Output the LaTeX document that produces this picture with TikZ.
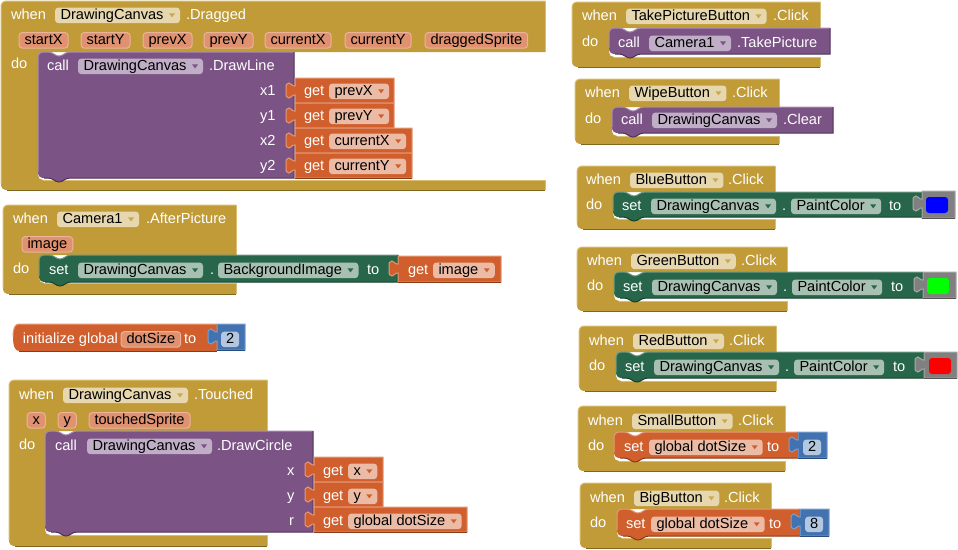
\documentclass[tikz,border=0pt]{standalone}
\usepackage{fontspec}
\setmainfont{Liberation Sans}

\definecolor{gold}{HTML}{C09B38}
\definecolor{goldlt}{HTML}{D9BE72}
\definecolor{golddk}{HTML}{7F6720}
\definecolor{goldpill}{HTML}{E6D7AF}
\definecolor{goldtri}{HTML}{C9A94F}
\definecolor{purp}{HTML}{7B5385}
\definecolor{purplt}{HTML}{A88DB0}
\definecolor{purpdk}{HTML}{4F3257}
\definecolor{purppill}{HTML}{BFAEC6}
\definecolor{purptri}{HTML}{7B5385}
\definecolor{grn}{HTML}{27664A}
\definecolor{grnlt}{HTML}{6F9A82}
\definecolor{grndk}{HTML}{17402B}
\definecolor{grnpill}{HTML}{A8C0B2}
\definecolor{grntri}{HTML}{27664A}
\definecolor{org}{HTML}{D05F2D}
\definecolor{orglt}{HTML}{E49A78}
\definecolor{orgdk}{HTML}{8A3A15}
\definecolor{orgpill}{HTML}{ECBBA5}
\definecolor{orgtri}{HTML}{D05F2D}
\definecolor{orgparam}{HTML}{E0916F}
\definecolor{blu}{HTML}{4272B0}
\definecolor{blult}{HTML}{7BA0D0}
\definecolor{bludk}{HTML}{2A4D80}
\definecolor{blupill}{HTML}{B3C7E1}
\definecolor{gry}{HTML}{808080}
\definecolor{grylt}{HTML}{AAAAAA}
\definecolor{grydk}{HTML}{555555}

\newcommand{\blockfont}{\fontsize{14.6}{16}\selectfont}

\tikzset{
	lbl/.style={anchor=base west, inner sep=0pt, outer sep=0pt, text=white, font=\blockfont},
	field/.style={anchor=base west, inner xsep=5.5pt, inner ysep=1pt, outer sep=0pt, text height=10.5pt, text depth=3.2pt, rounded corners=3.5pt, text=black, font=\blockfont},
	param/.style={field, fill=orgparam, draw=orgpill!80!orgparam, line width=1pt},
	number/.style={field, fill=blupill, inner xsep=5pt},
	swatch/.style={rounded corners=3pt},
	edge/.style={line width=1pt}
}

\newcommand{\whenblock}[7]{
	\fill[gold] (#1,#2+6) .. controls (#1,#2+2) and (#1+2,#2) .. (#1+6,#2) -- (#3,#2) -- (#3,#4) -- (#5+6,#4) -- (#5,#4+6) -- (#5,#6-5) .. controls (#5,#6-2) and (#5+2,#6) .. (#5+5,#6) -- (#3,#6) -- (#3,#7) -- (#1+6,#7) .. controls (#1+2,#7) and (#1,#7-2) .. (#1,#7-6) -- cycle;
	\draw[edge, goldlt] (#1,#7-6) -- (#1,#2+6) .. controls (#1,#2+2) and (#1+2,#2) .. (#1+6,#2) -- (#3,#2);
	\draw[edge, goldlt] (#5+5,#6) -- (#3,#6);
	\draw[edge, golddk] (#1+6,#7) -- (#3,#7);
	\draw[edge, goldlt] (#3,#2) -- (#3,#4);
	\draw[edge, goldlt] (#3,#6) -- (#3,#7);
}
\newcommand{\stmtblock}[5]{
	\fill[#5] (#1,#2+6) .. controls (#1,#2+2) and (#1+2,#2) .. (#1+6,#2) -- (#1+10,#2) .. controls (#1+15,#2) and (#1+17,#2+4) .. (#1+21,#2+4) .. controls (#1+25,#2+4) and (#1+27,#2) .. (#1+32,#2) -- (#3,#2) -- (#3,#4) -- (#1+32,#4) .. controls (#1+27,#4) and (#1+25,#4+4) .. (#1+21,#4+4) .. controls (#1+17,#4+4) and (#1+15,#4) .. (#1+10,#4) -- (#1+6,#4) .. controls (#1+2,#4) and (#1,#4-2) .. (#1,#4-6) -- cycle;
	\draw[edge, #5lt] (#1,#4-6) -- (#1,#2+6) .. controls (#1,#2+2) and (#1+2,#2) .. (#1+6,#2) -- (#1+10,#2) .. controls (#1+15,#2) and (#1+17,#2+4) .. (#1+21,#2+4) .. controls (#1+25,#2+4) and (#1+27,#2) .. (#1+32,#2) -- (#3,#2);
	\draw[edge, #5dk] (#3,#2) -- (#3,#4) -- (#1+32,#4) .. controls (#1+27,#4) and (#1+25,#4+4) .. (#1+21,#4+4) .. controls (#1+17,#4+4) and (#1+15,#4) .. (#1+10,#4) -- (#1+6,#4);
}
\newcommand{\valblock}[5]{
	\draw[edge, #5lt, fill=#5] (#1,#2) -- (#3,#2) -- (#3,#4) -- (#1,#4) -- (#1,#2+17) .. controls (#1-3,#2+16) and (#1-3,#2+20) .. (#1-6,#2+20) .. controls (#1-9,#2+20) and (#1-9,#2+18) .. (#1-9,#2+14) -- (#1-9,#2+11) .. controls (#1-9,#2+7) and (#1-9,#2+5) .. (#1-6,#2+5) .. controls (#1-3,#2+5) and (#1-3,#2+9) .. (#1,#2+8) -- cycle;
	\draw[edge, #5dk] (#1,#4) -- (#3,#4);
}
\newcommand{\dropf}[5]{
	\node[field, fill=#5pill] (#1) at (#2,#3) {#4\hspace*{11pt}};
	\fill[#5tri] ([shift={(-11,-2)}]#1.east) -- ([shift={(-5,-2)}]#1.east) -- ([shift={(-8,2)}]#1.east) -- cycle;
}

\begin{document}
\begin{tikzpicture}[x=1pt,y=-1pt]
\useasboundingbox (0,0) rectangle (958,549);

\whenblock{1}{1}{545}{52}{38}{180}{190}
\stmtblock{38}{52}{294}{178}{purp}
\valblock{295}{78}{394}{103}{org}
\valblock{295}{103}{394}{128}{org}
\valblock{295}{128}{412}{153}{org}
\valblock{295}{153}{412}{178}{org}
\node[lbl] (dragWhen) at (11,19) {when};
\dropf{dragCanvas}{55}{19}{DrawingCanvas}{gold}
\node[lbl] (dragName) at (186,19) {.Dragged};
\node[param] (dragStartX) at (19,44) {startX};
\node[param] (dragStartY) at (81,44) {startY};
\node[param] (dragPrevX) at (143,44) {prevX};
\node[param] (dragPrevY) at (204,44) {prevY};
\node[param] (dragCurX) at (265,44) {currentX};
\node[param] (dragCurY) at (345,44) {currentY};
\node[param] (dragSprite) at (425,44) {draggedSprite};
\node[lbl] (dragDo) at (11,68) {do};
\node[lbl] (lineCall) at (47,70) {call};
\dropf{lineCanvas}{78}{70}{DrawingCanvas}{purp}
\node[lbl] (lineName) at (209,70) {.DrawLine};
\node[lbl] (lineXa) at (260,95) {x1};
\node[lbl] (lineYa) at (260,120) {y1};
\node[lbl] (lineXb) at (260,145) {x2};
\node[lbl] (lineYb) at (260,170) {y2};
\node[lbl] (getA) at (304,95) {get};
\dropf{getPrevX}{329}{95}{prevX}{org}
\node[lbl] (getB) at (304,120) {get};
\dropf{getPrevY}{329}{120}{prevY}{org}
\node[lbl] (getC) at (304,145) {get};
\dropf{getCurX}{329}{145}{currentX}{org}
\node[lbl] (getD) at (304,170) {get};
\dropf{getCurY}{329}{170}{currentY}{org}

\whenblock{3}{205}{236}{255}{39}{283}{294}
\stmtblock{39}{255}{398}{282}{grn}
\valblock{398}{256}{501}{282}{org}
\node[lbl] (afterWhen) at (13,223) {when};
\dropf{afterCamera}{57}{223}{Camera1}{gold}
\node[lbl] (afterName) at (146,223) {.AfterPicture};
\node[param] (afterImage) at (22,248) {image};
\node[lbl] (afterDo) at (13,273) {do};
\node[lbl] (bgSet) at (49,274) {set};
\dropf{bgCanvas}{78}{274}{DrawingCanvas}{grn}
\node[lbl] (bgDot) at (210,274) {.};
\dropf{bgProp}{218}{274}{BackgroundImage}{grn}
\node[lbl] (bgTo) at (367,274) {to};
\node[lbl] (getImg) at (408,274) {get};
\dropf{getImage}{433}{274}{image}{org}

\fill[org] (19,324) .. controls (15,324) and (13,328) .. (13,337) .. controls (13,346) and (15,351) .. (19,351) -- (217,351) -- (217,324) -- cycle;
\draw[edge, orglt] (13,337) .. controls (13,328) and (15,324) .. (19,324) -- (217,324);
\draw[edge, orgdk] (19,351) -- (217,351);
\valblock{217}{324}{245}{350}{blu}
\node[lbl] (initText) at (23,343) {initialize global};
\node[param] (initName) at (121,343) {dotSize};
\node[lbl] (initTo) at (184,343) {to};
\node[number] (initNum) at (221,343) {2};

\whenblock{9}{380}{267}{431}{45}{535}{546}
\stmtblock{45}{431}{313}{532}{purp}
\valblock{314}{457}{383}{482}{org}
\valblock{314}{482}{383}{507}{org}
\valblock{314}{507}{467}{532}{org}
\node[lbl] (touchWhen) at (19,399) {when};
\dropf{touchCanvas}{63}{399}{DrawingCanvas}{gold}
\node[lbl] (touchName) at (194,399) {.Touched};
\node[param] (touchX) at (27,424) {x};
\node[param] (touchY) at (58,424) {y};
\node[param] (touchSprite) at (89,424) {touchedSprite};
\node[lbl] (touchDo) at (19,449) {do};
\node[lbl] (circCall) at (55,450) {call};
\dropf{circCanvas}{87}{450}{DrawingCanvas}{purp}
\node[lbl] (circName) at (217,450) {.DrawCircle};
\node[lbl] (circX) at (287,475) {x};
\node[lbl] (circY) at (287,500) {y};
\node[lbl] (circR) at (289,525) {r};
\node[lbl] (getE) at (323,475) {get};
\dropf{getX}{348}{475}{x}{org}
\node[lbl] (getF) at (323,500) {get};
\dropf{getY}{348}{500}{y}{org}
\node[lbl] (getG) at (323,525) {get};
\dropf{getDot}{348}{525}{global dotSize}{org}

\whenblock{572}{2}{820}{28}{609}{57}{67}
\stmtblock{609}{28}{830}{54}{purp}
\node[lbl] (takeWhen) at (582,20) {when};
\dropf{takeBtn}{626}{20}{TakePictureButton}{gold}
\node[lbl] (takeName) at (773,20) {.Click};
\node[lbl] (takeDo) at (582,46) {do};
\node[lbl] (takeCall) at (618,47) {call};
\dropf{takeCamera}{649}{47}{Camera1}{purp}
\node[lbl] (takeMeth) at (737,47) {.TakePicture};

\whenblock{575}{79}{779}{107}{612}{136}{144}
\stmtblock{612}{107}{833}{133}{purp}
\node[lbl] (wipeWhen) at (585,97) {when};
\dropf{wipeBtn}{629}{97}{WipeButton}{gold}
\node[lbl] (wipeName) at (732,97) {.Click};
\node[lbl] (wipeDo) at (585,123) {do};
\node[lbl] (wipeCall) at (621,124) {call};
\dropf{wipeCanvas}{652}{124}{DrawingCanvas}{purp}
\node[lbl] (wipeMeth) at (783,124) {.Clear};

\whenblock{577}{166}{775}{192}{613}{219}{229}
\stmtblock{613}{192}{922}{217}{grn}
\valblock{922}{191}{955}{218}{gry}
\fill[blue, swatch] (926,197) rectangle (948,213);
\node[lbl] (blueWhen) at (586,184) {when};
\dropf{blueBtn}{630}{184}{BlueButton}{gold}
\node[lbl] (blueName) at (728,184) {.Click};
\node[lbl] (blueDo) at (586,209) {do};
\node[lbl] (blueSet) at (622,210) {set};
\dropf{blueCanvas}{651}{210}{DrawingCanvas}{grn}
\node[lbl] (blueDot) at (782,210) {.};
\dropf{blueProp}{791}{210}{PaintColor}{grn}
\node[lbl] (blueTo) at (889,210) {to};

\whenblock{577}{247}{787}{272}{614}{301}{311}
\stmtblock{614}{272}{923}{298}{grn}
\valblock{923}{272}{956}{298}{gry}
\fill[green, swatch] (927,278) rectangle (949,294);
\node[lbl] (greenWhen) at (587,265) {when};
\dropf{greenBtn}{631}{265}{GreenButton}{gold}
\node[lbl] (greenName) at (741,265) {.Click};
\node[lbl] (greenDo) at (587,290) {do};
\node[lbl] (greenSet) at (623,291) {set};
\dropf{greenCanvas}{652}{291}{DrawingCanvas}{grn}
\node[lbl] (greenDot) at (783,291) {.};
\dropf{greenProp}{792}{291}{PaintColor}{grn}
\node[lbl] (greenTo) at (891,291) {to};

\whenblock{579}{326}{776}{352}{616}{381}{391}
\stmtblock{616}{352}{924}{378}{grn}
\valblock{924}{352}{957}{378}{gry}
\fill[red, swatch] (929,358) rectangle (951,374);
\node[lbl] (redWhen) at (589,345) {when};
\dropf{redBtn}{633}{345}{RedButton}{gold}
\node[lbl] (redName) at (729,345) {.Click};
\node[lbl] (redDo) at (589,370) {do};
\node[lbl] (redSet) at (625,371) {set};
\dropf{redCanvas}{654}{371}{DrawingCanvas}{grn}
\node[lbl] (redDot) at (785,371) {.};
\dropf{redProp}{794}{371}{PaintColor}{grn}
\node[lbl] (redTo) at (893,371) {to};

\whenblock{578}{406}{785}{432}{614}{461}{471}
\stmtblock{614}{432}{798}{458}{org}
\valblock{798}{432}{827}{458}{blu}
\node[lbl] (smallWhen) at (588,425) {when};
\dropf{smallBtn}{632}{425}{SmallButton}{gold}
\node[lbl] (smallName) at (738,425) {.Click};
\node[lbl] (smallDo) at (588,450) {do};
\node[lbl] (smallSet) at (624,451) {set};
\dropf{smallVar}{649}{451}{global dotSize}{org}
\node[lbl] (smallTo) at (767,451) {to};
\node[number] (smallNum) at (803,451) {2};

\whenblock{580}{483}{771}{509}{617}{538}{548}
\stmtblock{617}{509}{800}{536}{org}
\valblock{800}{509}{829}{536}{blu}
\node[lbl] (bigWhen) at (590,502) {when};
\dropf{bigBtn}{634}{502}{BigButton}{gold}
\node[lbl] (bigName) at (724,502) {.Click};
\node[lbl] (bigDo) at (590,527) {do};
\node[lbl] (bigSet) at (626,528) {set};
\dropf{bigVar}{651}{528}{global dotSize}{org}
\node[lbl] (bigTo) at (769,528) {to};
\node[number] (bigNum) at (805,528) {8};

\end{tikzpicture}
\end{document}
